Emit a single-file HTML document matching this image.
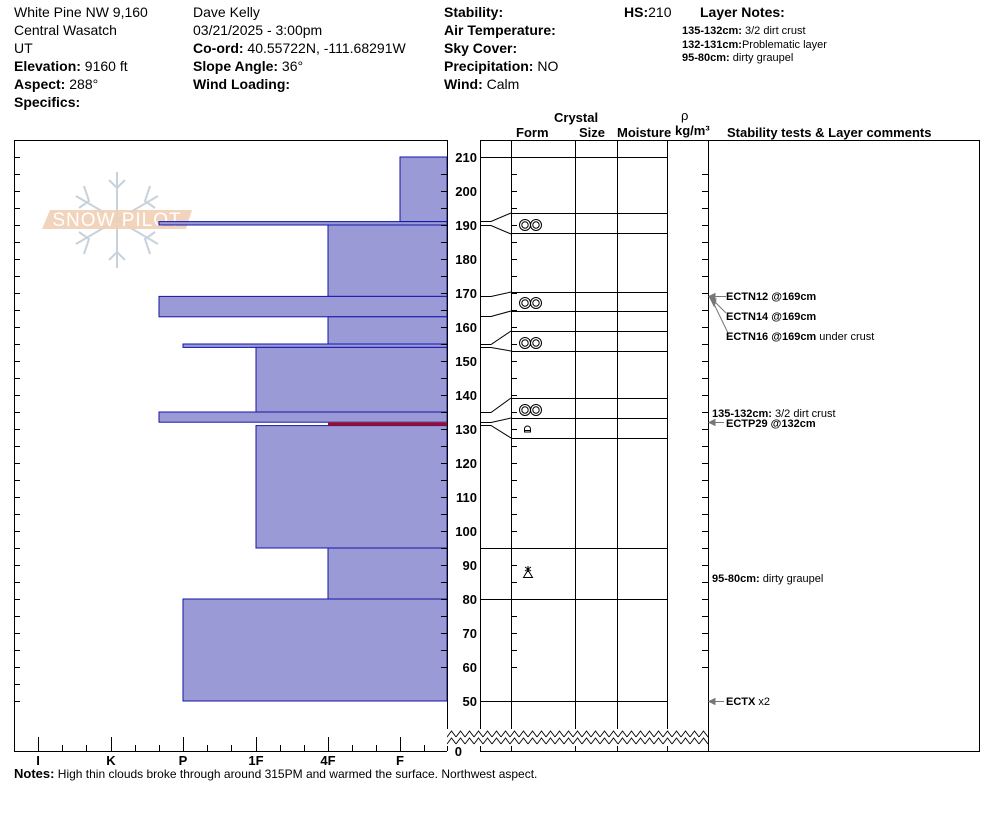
<!DOCTYPE html>
<html><head><meta charset="utf-8"><style>
html,body{margin:0;padding:0;background:#fff;}
svg{display:block;font-family:"Liberation Sans",Arial,sans-serif;}
.h{font-size:14px;fill:#000}
.b{font-weight:bold}
.s{font-size:11px}
.d{font-size:13px;font-weight:bold;text-anchor:end}
</style></head><body>
<svg width="994" height="840" viewBox="0 0 994 840" xmlns="http://www.w3.org/2000/svg">
<defs>
<pattern id="zz" x="447" y="729" width="9" height="17" patternUnits="userSpaceOnUse">
<rect width="9" height="17" fill="#fff"/>
<path d="M0 8 L4.5 2 L9 8 M0 15 L4.5 9 L9 15" fill="none" stroke="#000" stroke-width="0.9"/>
</pattern>
</defs>
<g class="h">
<text x="14" y="17">White Pine NW 9,160</text>
<text x="14" y="35">Central Wasatch</text>
<text x="14" y="53">UT</text>
<text x="14" y="71"><tspan class="b">Elevation:</tspan> 9160 ft</text>
<text x="14" y="89"><tspan class="b">Aspect:</tspan> 288°</text>
<text x="14" y="107" class="b">Specifics:</text>
<text x="193" y="17">Dave Kelly</text>
<text x="193" y="35">03/21/2025 - 3:00pm</text>
<text x="193" y="53"><tspan class="b">Co-ord:</tspan> 40.55722N, -111.68291W</text>
<text x="193" y="71"><tspan class="b">Slope Angle:</tspan> 36°</text>
<text x="193" y="89" class="b">Wind Loading:</text>
<text x="444" y="17" class="b">Stability:</text>
<text x="444" y="35" class="b">Air Temperature:</text>
<text x="444" y="53" class="b">Sky Cover:</text>
<text x="444" y="71"><tspan class="b">Precipitation:</tspan> NO</text>
<text x="444" y="89"><tspan class="b">Wind:</tspan>  Calm</text>
<text x="624" y="17"><tspan class="b">HS:</tspan>210</text>
<text x="700" y="17" class="b">Layer Notes:</text>
</g>
<g class="s">
<text x="682" y="34"><tspan class="b">135-132cm:</tspan> 3/2 dirt crust</text>
<text x="682" y="48"><tspan class="b">132-131cm:</tspan>Problematic layer</text>
<text x="682" y="61"><tspan class="b">95-80cm:</tspan> dirty graupel</text>
</g>
<g font-size="13" font-weight="bold">
<text x="554" y="122">Crystal</text>
<text x="516" y="137">Form</text>
<text x="579" y="137">Size</text>
<text x="617" y="137">Moisture</text>
<text x="681" y="120" font-weight="normal">ρ</text>
<text x="675" y="135">kg/m³</text>
<text x="727" y="137">Stability tests &amp; Layer comments</text>
</g>
<g stroke="#c7d2dc" stroke-width="2" fill="none">
<path d="M117 172V268M76 196L158 244M76 244L158 196"/>
<path d="M109 180L117 188L125 180M109 260L117 252L125 260M84 186L89 201L79 208M150 186L145 201L155 208M84 254L89 239L79 232M150 254L145 239L155 232"/>
</g>
<polygon points="50,210 192,210 186,229 42,229" fill="#efcfb4" opacity="0.9"/>
<text x="117" y="226" font-size="19" fill="#fff" text-anchor="middle" letter-spacing="1">SNOW PILOT</text>
<g fill="#9a9ad6" stroke="#1515a8" stroke-width="1">
<rect x="400" y="157" width="47" height="64.6"/>
<rect x="159" y="221.6" width="288" height="3.4"/>
<rect x="328" y="225" width="119" height="71.4"/>
<rect x="159" y="296.4" width="288" height="20.4"/>
<rect x="328" y="316.8" width="119" height="27.2"/>
<rect x="183" y="344" width="264" height="3.4"/>
<rect x="256" y="347.4" width="191" height="64.6"/>
<rect x="159" y="412" width="288" height="10.2"/>
<rect x="256" y="425.6" width="191" height="122.4"/>
<rect x="328" y="548" width="119" height="51"/>
<rect x="183" y="599" width="264" height="102"/>
</g>
<line x1="328" y1="424" x2="447" y2="424" stroke="#c00000" stroke-width="2.5"/>
<g stroke="#000" stroke-width="1" fill="none">
<path d="M14.5 751V140.5H447.5V751M14 751.5H447"/>
<path d="M480.5 751V140.5H979.5V751.5H480"/>
<path d="M511.5 140V751M575.5 140V751M617.5 140V751M667.5 140V751M708.5 140V751"/>
<path d="M511 157.5H667M511 213.5H667M511 233.5H667M511 292.5H667M511 311.5H667M511 331.5H667M511 351.5H667M511 398.5H667M511 418.5H667M511 438.5H667M480 548.5H667M480 599.5H667M480 701.5H667"/>
<path d="M480 157.5H511M480 221.5H491L511 213M480 225.5H491L511 234M480 296.5H491L511 292M480 316.5H491L511 311M480 344.5H491L511 331M480 347.5H491L511 351M480 412.5H491L511 398M480 422.5H491L511 418M480 425.5H491L511 438"/>
<path d="M14 157.5h6m-6 17h6m-6 17h6m-6 17h6m-6 17h6m-6 17h6m-6 17h6m-6 17h6m-6 17h6m-6 17h6m-6 17h6m-6 17h6m-6 17h6m-6 17h6m-6 17h6m-6 17h6m-6 17h6m-6 17h6m-6 17h6m-6 17h6m-6 17h6m-6 17h6m-6 17h6m-6 17h6m-6 17h6m-6 17h6m-6 17h6m-6 17h6m-6 17h6m-6 17h6m-6 17h6m-6 17h6m-6 17h6"/>
<path d="M447 174.5h-6m6 17h-6m6 17h-6m6 17h-6m6 17h-6m6 17h-6m6 17h-6m6 17h-6m6 17h-6m6 17h-6m6 17h-6m6 17h-6m6 17h-6m6 17h-6m6 17h-6m6 17h-6m6 17h-6m6 17h-6m6 17h-6m6 17h-6m6 17h-6m6 17h-6m6 17h-6m6 17h-6m6 17h-6m6 17h-6m6 17h-6m6 17h-6m6 17h-6m6 17h-6"/>
<path d="M511 174.5h6m-6 17h6m-6 17h6m-6 17h6m-6 17h6m-6 17h6m-6 17h6m-6 17h6m-6 17h6m-6 17h6m-6 17h6m-6 17h6m-6 17h6m-6 17h6m-6 17h6m-6 17h6m-6 17h6m-6 17h6m-6 17h6m-6 17h6m-6 17h6m-6 17h6m-6 17h6m-6 17h6m-6 17h6m-6 17h6m-6 17h6m-6 17h6m-6 17h6m-6 17h6"/>
<path d="M708 174.5h-6m6 17h-6m6 17h-6m6 17h-6m6 17h-6m6 17h-6m6 17h-6m6 17h-6m6 17h-6m6 17h-6m6 17h-6m6 17h-6m6 17h-6m6 17h-6m6 17h-6m6 17h-6m6 17h-6m6 17h-6m6 17h-6m6 17h-6m6 17h-6m6 17h-6m6 17h-6m6 17h-6m6 17h-6m6 17h-6m6 17h-6m6 17h-6m6 17h-6m6 17h-6"/>
<path d="M38.5 751v-14M111.5 751v-14M183.5 751v-14M256.5 751v-14M328.5 751v-14M400.5 751v-14M62.5 751v-6M86.5 751v-6M135.5 751v-6M159.5 751v-6M207.5 751v-6M231.5 751v-6M280.5 751v-6M304.5 751v-6M352.5 751v-6M376.5 751v-6M424.5 751v-6"/>
</g>
<rect x="447" y="729" width="261" height="17" fill="url(#zz)"/>
<g class="d">
<text x="477" y="162">210</text><text x="477" y="196">200</text><text x="477" y="230">190</text><text x="477" y="264">180</text>
<text x="477" y="298">170</text><text x="477" y="332">160</text><text x="477" y="366">150</text><text x="477" y="400">140</text>
<text x="477" y="434">130</text><text x="477" y="468">120</text><text x="477" y="502">110</text><text x="477" y="536">100</text>
<text x="477" y="570">90</text><text x="477" y="604">80</text><text x="477" y="638">70</text><text x="477" y="672">60</text>
<text x="477" y="706">50</text><text x="462" y="756">0</text>
</g>
<g font-size="13" font-weight="bold" text-anchor="middle">
<text x="38" y="765">I</text><text x="111" y="765">K</text><text x="183" y="765">P</text>
<text x="256" y="765">1F</text><text x="328" y="765">4F</text><text x="400" y="765">F</text>
</g>
<text x="14" y="778" font-size="12"><tspan font-weight="bold" font-size="13">Notes:</tspan> High thin clouds broke through around 315PM and warmed the surface. Northwest aspect.</text>
<g fill="none" stroke="#000" stroke-width="1">
<g id="rg"><circle cx="525" cy="225" r="5.5"/><circle cx="525" cy="225" r="3.2"/><circle cx="536" cy="225" r="5.5"/><circle cx="536" cy="225" r="3.2"/></g>
<use href="#rg" y="78"/><use href="#rg" y="118"/><use href="#rg" y="185"/>
<path d="M524.5 432v-3a3 3 0 0 1 6 0v3zM524 430.5h7"/>
<path d="M523.5 577.5L528 570L532.5 577.5Z M528 566v6M525 567l6 4M531 567l-6 4"/>
</g>
<g stroke="#777" stroke-width="1" fill="#777">
<path d="M712 296.5H726M712 299L726 313M713 302L728 333" fill="none"/>
<path d="M709 296.5l6-3v6z M710 298l6 1l-3 4z M711 300l5 1l-2 5z M709 422.5l6-3v6z M709 701.5l6-3v6z"/>
<path d="M712 422.5H724M712 701.5H724" fill="none"/>
</g>
<g class="s">
<text x="726" y="300" class="b">ECTN12 @169cm</text>
<text x="726" y="320" class="b">ECTN14 @169cm</text>
<text x="726" y="340"><tspan class="b">ECTN16 @169cm</tspan> under crust</text>
<text x="712" y="417"><tspan class="b">135-132cm:</tspan> 3/2 dirt crust</text>
<text x="726" y="427" class="b">ECTP29 @132cm</text>
<text x="712" y="582"><tspan class="b">95-80cm:</tspan> dirty graupel</text>
<text x="726" y="705"><tspan class="b">ECTX</tspan> x2</text>
</g>
</svg>
</body></html>
